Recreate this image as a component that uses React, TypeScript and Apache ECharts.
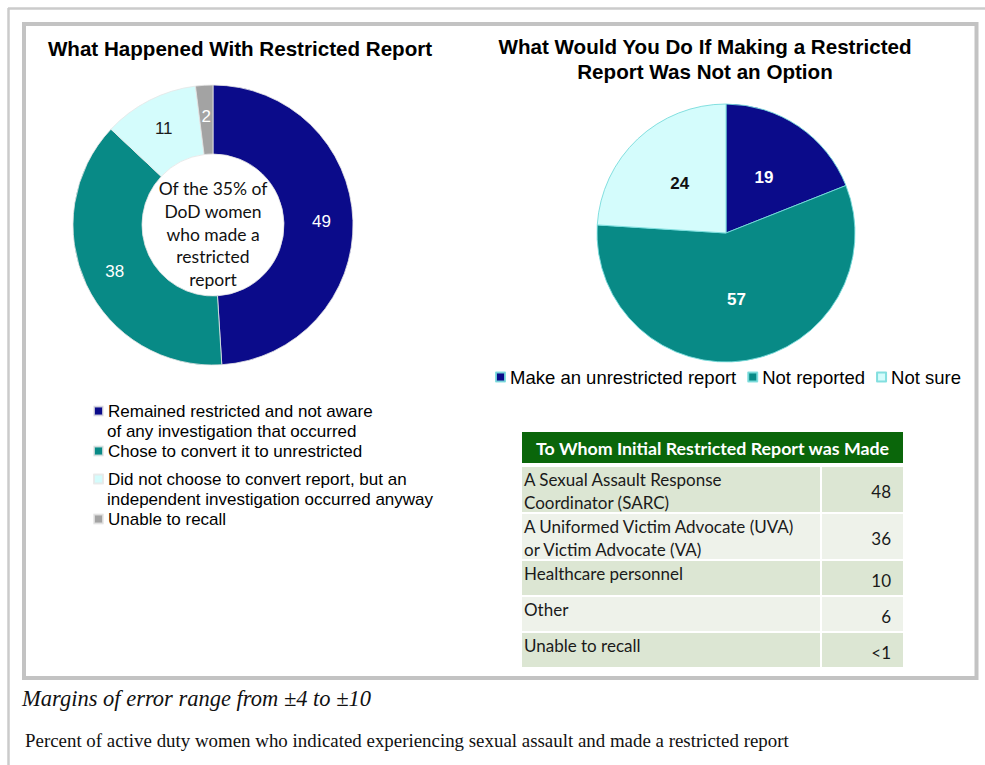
import React, { useEffect, useRef } from "react";
import * as echarts from "echarts";

// ---------- data ----------
const leftTitle = "What Happened With Restricted Report";
const rightTitle = "What Would You Do If Making a Restricted\nReport Was Not an Option";

const leftCategories = [
  "Remained restricted and not aware of any investigation that occurred",
  "Chose to convert it to unrestricted",
  "Did not choose to convert report, but an independent investigation occurred anyway",
  "Unable to recall",
];
const leftLegendLabels = [
  "Remained restricted and not aware\nof any investigation that occurred",
  "Chose to convert it to unrestricted",
  "Did not choose to convert report, but an\nindependent investigation occurred anyway",
  "Unable to recall",
];
const leftValues = [49, 38, 11, 2];
const centerText = "Of the 35% of\nDoD women\nwho made a\nrestricted\nreport";

const rightCategories = ["Make an unrestricted report", "Not reported", "Not sure"];
const rightValues = [19, 57, 24];

const tableTitle = "To Whom Initial Restricted Report was Made";
const tableLabels = [
  "A Sexual Assault Response\nCoordinator (SARC)",
  "A Uniformed Victim Advocate (UVA)\nor Victim Advocate (VA)",
  "Healthcare personnel",
  "Other",
  "Unable to recall",
];
const tableValues = ["48", "36", "10", "6", "<1"];

const marginNote = "Margins of error range from \u00b14 to \u00b110";
const footnote =
  "Percent of active duty women who indicated experiencing sexual assault and made a restricted report";

// ---------- styles ----------
const leftColors = ["#0b0b8a", "#088a86", "#d4fcfc", "#a3a3a3"];
const leftLabelColors = ["#ffffff", "#ffffff", "#1a1a1a", "#ffffff"];
const rightColors = ["#0b0b8a", "#088a86", "#d4fcfc"];
const rightLabelColors = ["#ffffff", "#ffffff", "#111111"];

const ARIAL = "'Liberation Sans', Arial, sans-serif";
const CALIBRI = "Lato, 'Open Sans', sans-serif";
const TIMES = "'Liberation Serif', 'Times New Roman', serif";

export default function App() {
  const ref = useRef<HTMLDivElement>(null);

  useEffect(() => {
    if (!ref.current) return;
    const chart = echarts.init(ref.current, undefined, { renderer: "svg" });

    // left legend: one legend per item; wrapped continuation lines drawn as text below
    const legendLH = 20;
    const legendFontSize = 17;
    const legendLeft = 93;
    const legendTextX = legendLeft + 9 + 5;
    const legendFirstLineY = [411, 451, 479, 519];
    const continuationEls: any[] = [];
    const leftLegends = leftCategories.map((name, i) => {
      const lines = leftLegendLabels[i].split("\n");
      lines.slice(1).forEach((ln, k) => {
        continuationEls.push({
          type: "text",
          x: legendTextX,
          y: legendFirstLineY[i] + legendLH * (k + 1),
          style: {
            text: ln,
            fill: "#000",
            font: `${legendFontSize}px ${ARIAL}`,
            align: "left",
            verticalAlign: "middle",
          },
        });
      });
      return {
        data: [name],
        orient: "vertical",
        left: legendLeft,
        top: legendFirstLineY[i] - legendLH / 2,
        padding: 0,
        itemWidth: 9,
        itemHeight: 9,
        icon: "rect",
        selectedMode: false,
        formatter: () => lines[0],
        textStyle: {
          fontFamily: ARIAL,
          fontSize: legendFontSize,
          color: "#000",
          lineHeight: legendLH,
        },
      };
    });

    // table graphics
    const tableX = 522;
    const col2X = 822;
    const tableR = 903;
    const headerY = 432;
    const headerH = 31;
    const rowHeights = [45, 45, 34, 34, 34];
    const rowFills = ["#dce6d3", "#eef2ea"];
    const tableEls: any[] = [
      {
        type: "rect",
        shape: { x: tableX, y: headerY, width: tableR - tableX, height: headerH },
        style: { fill: "#0a660a" },
      },
      {
        type: "text",
        x: (tableX + tableR) / 2,
        y: headerY + headerH / 2,
        style: {
          text: tableTitle,
          fill: "#ffffff",
          font: `bold 17.8px ${CALIBRI}`,
          align: "center",
          verticalAlign: "middle",
        },
      },
    ];
    let rowTop = 467;
    tableLabels.forEach((label, i) => {
      const h = rowHeights[i];
      const fill = rowFills[i % 2];
      tableEls.push(
        {
          type: "rect",
          shape: { x: tableX, y: rowTop, width: col2X - 2 - tableX, height: h },
          style: { fill },
        },
        {
          type: "rect",
          shape: { x: col2X, y: rowTop, width: tableR - col2X, height: h },
          style: { fill },
        },
        {
          type: "text",
          x: tableX + 2,
          y: rowTop + 0.5,
          style: {
            text: label,
            fill: "#1a1a1a",
            font: `17px ${CALIBRI}`,
            lineHeight: 23,
            align: "left",
            verticalAlign: "top",
          },
        },
        {
          type: "text",
          x: tableR - 12,
          y: rowTop + h / 2 + 2,
          style: {
            text: tableValues[i],
            fill: "#1a1a1a",
            font: `17px ${CALIBRI}`,
            align: "right",
            verticalAlign: "middle",
          },
        }
      );
      rowTop += h + 2;
    });

    const option: any = {
      animation: false,
      backgroundColor: "#ffffff",
      title: [
        {
          text: leftTitle,
          left: 240,
          top: 35.5,
          textAlign: "center",
          padding: 0,
          textStyle: { fontFamily: ARIAL, fontSize: 20.6, fontWeight: "bold", color: "#000", lineHeight: 25 },
        },
        {
          text: rightTitle,
          left: 705,
          top: 33.5,
          textAlign: "center",
          padding: 0,
          textStyle: { fontFamily: ARIAL, fontSize: 20.6, fontWeight: "bold", color: "#000", lineHeight: 25 },
        },
      ],
      legend: [
        ...leftLegends,
        {
          data: rightCategories,
          orient: "horizontal",
          left: 495,
          top: 366,
          padding: 0,
          itemGap: 11,
          itemWidth: 9,
          itemHeight: 9,
          icon: "rect",
          selectedMode: false,
          textStyle: { fontFamily: ARIAL, fontSize: 18.5, color: "#000", lineHeight: 22 },
        },
      ],
      graphic: [
        {
          type: "line",
          shape: { x1: 8, y1: 8.5, x2: 985, y2: 8.5 },
          style: { stroke: "#cbcbcb", lineWidth: 2.5 },
          silent: true,
        },
        {
          type: "line",
          shape: { x1: 8.5, y1: 8, x2: 8.5, y2: 765 },
          style: { stroke: "#cbcbcb", lineWidth: 2.5 },
          silent: true,
        },
        {
          type: "rect",
          shape: { x: 24, y: 24, width: 952.5, height: 654 },
          style: { fill: "transparent", stroke: "#c3c3c3", lineWidth: 4 },
          silent: true,
        },
        {
          type: "text",
          x: 213,
          y: 234,
          z: 10,
          style: {
            text: centerText,
            fill: "#111",
            font: `17.5px ${CALIBRI}`,
            lineHeight: 22.8,
            align: "center",
            verticalAlign: "middle",
          },
        },
        ...continuationEls,
        {
          type: "text",
          x: 22,
          y: 698,
          style: {
            text: marginNote,
            fill: "#111",
            font: `italic 22.5px ${TIMES}`,
            align: "left",
            verticalAlign: "middle",
          },
        },
        {
          type: "text",
          x: 25,
          y: 740,
          style: {
            text: footnote,
            fill: "#111",
            font: `18.9px ${TIMES}`,
            align: "left",
            verticalAlign: "middle",
          },
        },
        ...tableEls,
      ],
      series: [
        {
          type: "pie",
          name: "What Happened",
          center: [213, 225],
          radius: [71, 140],
          startAngle: 90,
          clockwise: true,
          silent: true,
          emphasis: { disabled: true },
          labelLine: { show: false },
          itemStyle: { borderColor: "rgba(230,230,230,0.8)", borderWidth: 1 },
          label: {
            show: true,
            position: "inside",
            formatter: "{c}",
            fontFamily: ARIAL,
            fontSize: 17,
          },
          data: leftCategories.map((name, i) => ({
            name,
            value: leftValues[i],
            itemStyle: { color: leftColors[i] },
            label: { color: leftLabelColors[i] },
          })),
        },
        {
          type: "pie",
          name: "If Not an Option",
          center: [726, 233],
          radius: [0, 129],
          startAngle: 90,
          clockwise: true,
          silent: true,
          emphasis: { disabled: true },
          labelLine: { show: false },
          itemStyle: { borderColor: "rgba(120,220,220,0.9)", borderWidth: 1 },
          label: {
            show: true,
            position: "inside",
            formatter: "{c}",
            fontFamily: ARIAL,
            fontSize: 17,
            fontWeight: "bold",
          },
          data: rightCategories.map((name, i) => ({
            name,
            value: rightValues[i],
            itemStyle: { color: rightColors[i] },
            label: { color: rightLabelColors[i] },
          })),
        },
      ],
    };

    chart.setOption(option);
    return () => chart.dispose();
  }, []);

  return (
    <div
      ref={ref}
      style={{ position: "absolute", left: 0, top: 0, width: 985, height: 765, background: "#fff" }}
    />
  );
}
